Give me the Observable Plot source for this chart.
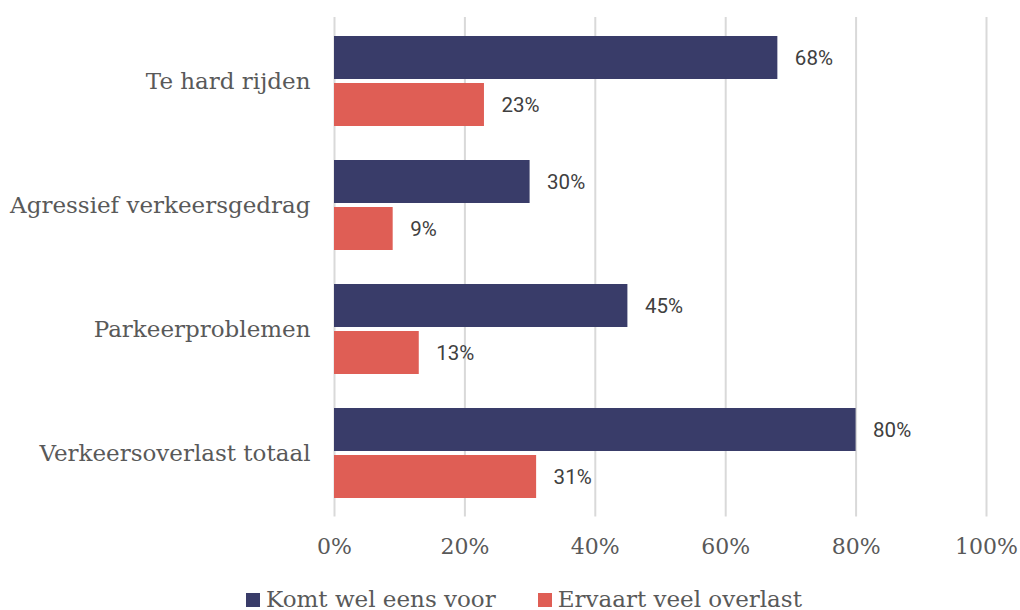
<!DOCTYPE html>
<html>
<head>
<meta charset="utf-8">
<script src="https://cdn.jsdelivr.net/npm/d3@7"></script>
<script src="https://cdn.jsdelivr.net/npm/@observablehq/plot@0.6"></script>
<style>
  html, body { margin: 0; padding: 0; background: #fff; }
  #chart { width: 1020px; height: 610px; overflow: hidden; position: relative; }
  .legend { position: absolute; left: 0; top: 588px; width: 1020px; display: flex; justify-content: center;
    font-family: "DejaVu Serif", serif; font-size: 23px; color: #595959; line-height: 1; padding-left: 28px; box-sizing: border-box; }
  .legend .item { display: flex; align-items: flex-start; margin: 0 21px; }
  .legend .sw { width: 14px; height: 14px; margin-right: 6px; margin-top: 5px; display: inline-block; }
</style>
</head>
<body>
<div id="chart"></div>
<script>
const categories = ["Te hard rijden", "Agressief verkeersgedrag", "Parkeerproblemen", "Verkeersoverlast totaal"];
const seriesNames = ["Komt wel eens voor", "Ervaart veel overlast"];
const komtVoor = [0.68, 0.30, 0.45, 0.80];
const veelOverlast = [0.23, 0.09, 0.13, 0.31];
const xTicks = [0, 0.2, 0.4, 0.6, 0.8, 1.0];
const colors = ["#393c69", "#df5e55"];

const rowsA = categories.map((c, i) => ({category: c, value: komtVoor[i]}));
const rowsB = categories.map((c, i) => ({category: c, value: veelOverlast[i]}));
const pct = d3.format(".0%");

const plot = Plot.plot({
  width: 1020,
  height: 570,
  marginLeft: 334,
  marginRight: 34,
  marginTop: 17,
  marginBottom: 53.5,
  style: {background: "transparent"},
  x: {domain: [0, 1], ticks: xTicks, tickFormat: pct},
  y: {domain: categories, paddingInner: 0.275, paddingOuter: 0.1375},
  marks: [
    Plot.gridX(xTicks, {stroke: "#d9d9d9", strokeOpacity: 1, strokeWidth: 2}),
    Plot.barX(rowsA, {x: "value", y: "category", fill: colors[0], insetBottom: 47}),
    Plot.barX(rowsB, {x: "value", y: "category", fill: colors[1], insetTop: 47}),
    Plot.text(rowsA, {x: "value", y: "category", text: d => pct(d.value), dx: 17, dy: -23.5, textAnchor: "start",
      fill: "#404040", fontSize: 20.5, fontFamily: "Roboto, sans-serif"}),
    Plot.text(rowsB, {x: "value", y: "category", text: d => pct(d.value), dx: 17, dy: 23.5, textAnchor: "start",
      fill: "#404040", fontSize: 20.5, fontFamily: "Roboto, sans-serif"}),
    Plot.axisX({ticks: xTicks, tickFormat: pct, tickSize: 0, tickPadding: 21, fontSize: 22,
      fontFamily: "DejaVu Serif, serif", color: "#595959", label: null}),
    Plot.axisY({tickSize: 0, tickPadding: 24, fontSize: 23, fontFamily: "DejaVu Serif, serif",
      color: "#595959", label: null})
  ]
});
plot.style.fontFamily = "DejaVu Serif, serif";
document.getElementById("chart").appendChild(plot);

const legend = document.createElement("div");
legend.className = "legend";
seriesNames.forEach((name, i) => {
  const item = document.createElement("div");
  item.className = "item";
  const sw = document.createElement("span");
  sw.className = "sw";
  sw.style.background = colors[i];
  const t = document.createElement("span");
  t.textContent = name;
  item.appendChild(sw);
  item.appendChild(t);
  legend.appendChild(item);
});
document.getElementById("chart").appendChild(legend);
</script>
</body>
</html>
